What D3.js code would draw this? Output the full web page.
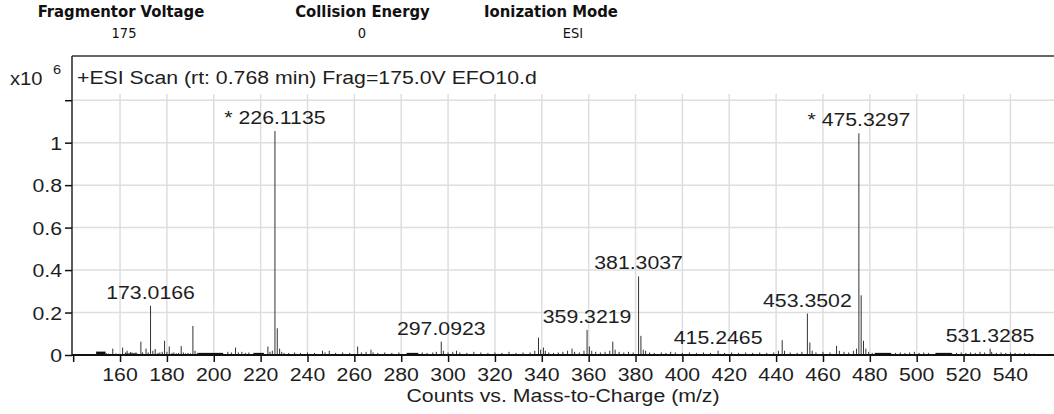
<!DOCTYPE html>
<html>
<head>
<meta charset="utf-8">
<script src="https://cdn.jsdelivr.net/npm/d3@7"></script>
<style>
  html, body { margin: 0; padding: 0; background: #fff; }
  svg { display: block; }
</style>
</head>
<body>
<svg id="chart" width="1054" height="414"></svg>
<script>
// Acquisition parameters shown above the spectrum
const paramNames = ["Fragmentor Voltage", "Collision Energy", "Ionization Mode"];
const paramValues = ["175", "0", "ESI"];

const scanTitle = "+ESI Scan (rt: 0.768 min) Frag=175.0V EFO10.d";
const xTitle = "Counts vs. Mass-to-Charge (m/z)";

// Tick values
const xTickValues = [140, 160, 180, 200, 220, 240, 260, 280, 300, 320, 340, 360, 380, 400, 420, 440, 460, 480, 500, 520, 540];
const xLabelValues = [160, 180, 200, 220, 240, 260, 280, 300, 320, 340, 360, 380, 400, 420, 440, 460, 480, 500, 520, 540];
const yTickValues = [0, 0.2, 0.4, 0.6, 0.8, 1.0, 1.2];
const yLabelValues = [0, 0.2, 0.4, 0.6, 0.8, 1.0];

// Annotated peaks: m/z, intensity (x10^6 counts), label text
const peakMz = [173.0166, 226.1135, 297.0923, 359.3219, 381.3037, 415.2465, 453.3502, 475.3297, 531.3285];
const peakIntensity = [0.232, 1.055, 0.063, 0.118, 0.370, 0.020, 0.195, 1.044, 0.030];
const peakLabels = ["173.0166", "* 226.1135", "297.0923", "359.3219", "381.3037", "415.2465", "453.3502", "* 475.3297", "531.3285"];

// Other centroid sticks: [m/z, intensity]
const minorPeaks = [
  [154.2, 0.008], [155.0, 0.006], [156.9, 0.030], [158.2, 0.008], [159.5, 0.006],
  [161.1, 0.035], [162.3, 0.012], [163.0, 0.020], [164.4, 0.014], [165.1, 0.012],
  [166.0, 0.010], [166.8, 0.012], [168.9, 0.063], [169.6, 0.012], [171.1, 0.030],
  [172.0, 0.012], [174.0, 0.020], [175.0, 0.028], [176.2, 0.010], [177.0, 0.012],
  [178.0, 0.015], [179.0, 0.067], [180.0, 0.015], [181.0, 0.040], [182.2, 0.010],
  [183.0, 0.012], [184.0, 0.008], [185.0, 0.010], [186.1, 0.042], [187.0, 0.012],
  [188.0, 0.008], [189.0, 0.010], [190.0, 0.008], [191.1, 0.137], [192.0, 0.020],
  [193.0, 0.010], [206.0, 0.015], [207.5, 0.012], [209.3, 0.035], [210.5, 0.012],
  [212.0, 0.015], [213.5, 0.010], [215.0, 0.012], [223.1, 0.040], [224.0, 0.015],
  [225.0, 0.020], [227.1, 0.126], [228.1, 0.030], [229.0, 0.015], [230.0, 0.010],
  [232.0, 0.010], [234.5, 0.012], [237.0, 0.010], [240.0, 0.012], [243.0, 0.010],
  [246.4, 0.020], [247.5, 0.012], [249.3, 0.020], [252.0, 0.010], [255.0, 0.012],
  [258.0, 0.010], [261.4, 0.040], [263.0, 0.012], [265.0, 0.015], [267.1, 0.025],
  [268.0, 0.012], [270.0, 0.010], [273.0, 0.012], [276.0, 0.010], [279.0, 0.012],
  [289.0, 0.012], [291.0, 0.010], [293.5, 0.012], [295.0, 0.015], [298.0, 0.020],
  [300.0, 0.012], [302.0, 0.015], [303.6, 0.020], [305.0, 0.012], [308.0, 0.010],
  [311.0, 0.015], [314.0, 0.012], [317.0, 0.010], [320.0, 0.012], [323.0, 0.010],
  [326.0, 0.015], [329.0, 0.010], [332.0, 0.012], [335.0, 0.012], [337.0, 0.020],
  [338.6, 0.082], [339.5, 0.025], [340.7, 0.035], [341.5, 0.020], [343.0, 0.012],
  [345.0, 0.010], [347.0, 0.012], [349.0, 0.015], [351.0, 0.020], [352.9, 0.030],
  [354.0, 0.015], [356.0, 0.012], [358.0, 0.020], [360.3, 0.040], [361.3, 0.020],
  [363.0, 0.015], [365.0, 0.012], [367.0, 0.015], [369.0, 0.020], [370.3, 0.063],
  [371.3, 0.025], [373.0, 0.015], [375.0, 0.012], [377.0, 0.015], [379.0, 0.012],
  [382.3, 0.090], [383.3, 0.025], [384.3, 0.020], [386.0, 0.012], [388.0, 0.010],
  [391.0, 0.012], [393.0, 0.010], [395.0, 0.015], [397.0, 0.012], [400.0, 0.010],
  [403.0, 0.012], [406.0, 0.010], [409.0, 0.012], [412.0, 0.010], [418.0, 0.010],
  [421.0, 0.012], [424.0, 0.010], [427.0, 0.012], [430.0, 0.010], [433.0, 0.012],
  [436.0, 0.010], [439.0, 0.012], [441.0, 0.020], [442.6, 0.070], [443.6, 0.020],
  [446.0, 0.012], [449.0, 0.010], [451.0, 0.015], [454.4, 0.059], [455.4, 0.020],
  [457.0, 0.012], [460.0, 0.015], [463.0, 0.012], [465.8, 0.043], [467.0, 0.020],
  [469.0, 0.015], [471.0, 0.012], [473.0, 0.020], [474.3, 0.030], [476.3, 0.281],
  [477.3, 0.067], [478.3, 0.030], [479.5, 0.015], [481.0, 0.010], [491.0, 0.010],
  [493.0, 0.012], [495.0, 0.010], [497.0, 0.012], [499.0, 0.015], [501.0, 0.010],
  [503.0, 0.012], [505.0, 0.010], [517.0, 0.010], [519.0, 0.012], [521.0, 0.010],
  [523.0, 0.012], [525.0, 0.010], [527.0, 0.015], [529.0, 0.012], [532.0, 0.015],
  [534.0, 0.010], [536.0, 0.012], [538.0, 0.010], [540.0, 0.012], [542.0, 0.010],
  [544.0, 0.008], [546.0, 0.010], [548.0, 0.008], [550.0, 0.006]
];

// Dense low-level noise regions: [m/z start, m/z end, intensity]
const noiseBands = [
  [149.8, 153.8, 0.016], [162.5, 167.5, 0.007], [193.3, 204.0, 0.010],
  [216.9, 221.4, 0.010], [282.3, 287.3, 0.010], [482.1, 489.1, 0.010],
  [508.0, 515.0, 0.010]
];

const svg = d3.select("#chart");
const W = 1054;
const plotLeft = 72, plotTop = 56, plotBottom = 355;

const x = d3.scaleLinear().domain([139.5, 558.6]).range([plotLeft, W]);
const y = d3.scaleLinear().domain([0, 1.2]).range([plotBottom, 100.2]);

const FONT = "'Liberation Sans', Arial, sans-serif";
const TXT = "#1e1e1e";
const SX = 1.12; // horizontal stretch of chart text

function stretchedText(g, str, tx, ty, size, anchor, fill) {
  return g.append("text")
    .attr("transform", `translate(${tx},${ty}) scale(${SX},1)`)
    .attr("text-anchor", anchor)
    .attr("font-family", FONT)
    .attr("font-size", size)
    .attr("fill", fill || TXT)
    .text(str);
}

// Header: acquisition parameters
const headerX = [121, 362.5, 551];
const valueX = [124, 362, 573];
const HEAD_FONT = "'DejaVu Sans Condensed', 'DejaVu Sans', sans-serif";
const header = svg.append("g");
paramNames.forEach((name, i) => {
  header.append("text")
    .attr("x", headerX[i]).attr("y", 17)
    .attr("text-anchor", "middle")
    .attr("font-family", HEAD_FONT)
    .attr("font-weight", "bold")
    .attr("font-size", 16.5)
    .attr("fill", "#111")
    .text(name);
  header.append("text")
    .attr("x", valueX[i]).attr("y", 38)
    .attr("text-anchor", "middle")
    .attr("font-family", HEAD_FONT)
    .attr("font-size", 14.5)
    .attr("fill", "#111")
    .text(paramValues[i]);
});

// Grid
const grid = svg.append("g");
grid.selectAll("line.h").data(yTickValues.filter(v => v > 0)).join("line")
  .attr("x1", plotLeft).attr("x2", W)
  .attr("y1", d => y(d)).attr("y2", d => y(d))
  .attr("stroke", "#dedede").attr("stroke-width", 1.5);
grid.selectAll("line.v").data(xLabelValues).join("line")
  .attr("x1", d => x(d)).attr("x2", d => x(d))
  .attr("y1", 94).attr("y2", plotBottom)
  .attr("stroke", "#dedede").attr("stroke-width", 1.5);

// Frame (top and left edge)
svg.append("line").attr("x1", plotLeft).attr("x2", W).attr("y1", plotTop).attr("y2", plotTop)
  .attr("stroke", "#333").attr("stroke-width", 1.6);
svg.append("line").attr("x1", plotLeft).attr("x2", plotLeft).attr("y1", plotTop).attr("y2", plotBottom)
  .attr("stroke", "#333").attr("stroke-width", 1.6);

// Noise bands
svg.append("g").selectAll("rect").data(noiseBands).join("rect")
  .attr("x", d => x(d[0]))
  .attr("width", d => x(d[1]) - x(d[0]))
  .attr("y", d => y(d[2]))
  .attr("height", d => y(0) - y(d[2]))
  .attr("fill", "#111");

// Minor sticks
svg.append("g").selectAll("line").data(minorPeaks).join("line")
  .attr("x1", d => x(d[0])).attr("x2", d => x(d[0]))
  .attr("y1", y(0)).attr("y2", d => y(d[1]))
  .attr("stroke", "#333").attr("stroke-width", 1);

// Annotated sticks
const peaks = peakMz.map((m, i) => ({ mz: m, v: peakIntensity[i], label: peakLabels[i] }));
svg.append("g").selectAll("line").data(peaks).join("line")
  .attr("x1", d => x(d.mz)).attr("x2", d => x(d.mz))
  .attr("y1", y(0)).attr("y2", d => y(d.v))
  .attr("stroke", "#333").attr("stroke-width", 1);

// Peak labels
const labels = svg.append("g");
peaks.forEach(d => {
  stretchedText(labels, d.label, x(d.mz), y(d.v) - 7, 19, "middle");
});

// X axis
const xAxisG = svg.append("g").attr("transform", `translate(0,${plotBottom})`);
xAxisG.append("line").attr("x1", plotLeft).attr("x2", W).attr("y1", 0).attr("y2", 0)
  .attr("stroke", "#111").attr("stroke-width", 2);
const xAxis = d3.axisBottom(x).tickValues(xTickValues).tickSize(7).tickFormat(() => "");
const xa = xAxisG.append("g").call(xAxis);
xa.select(".domain").remove();
xa.selectAll(".tick line").attr("stroke", "#111").attr("stroke-width", 1.5);
xLabelValues.forEach(v => {
  stretchedText(xAxisG, String(v), x(v), 25.5, 19, "middle");
});
stretchedText(svg, xTitle, 563, 401.5, 19, "middle");

// Y axis
const yAxisG = svg.append("g").attr("transform", `translate(${plotLeft},0)`);
const yAxis = d3.axisLeft(y).tickValues(yTickValues).tickSize(7).tickFormat(() => "");
const ya = yAxisG.append("g").call(yAxis);
ya.select(".domain").remove();
ya.selectAll(".tick line").attr("stroke", "#111").attr("stroke-width", 1.5);
yLabelValues.forEach(v => {
  stretchedText(yAxisG, d3.format("~g")(v), -10, y(v) + 7, 19, "end");
});

// Exponent and scan title
stretchedText(svg, "x10", 10, 85, 18, "start");
stretchedText(svg, "6", 53, 74, 13, "start");
stretchedText(svg, scanTitle, 77, 84, 19, "start");
</script>
</body>
</html>
